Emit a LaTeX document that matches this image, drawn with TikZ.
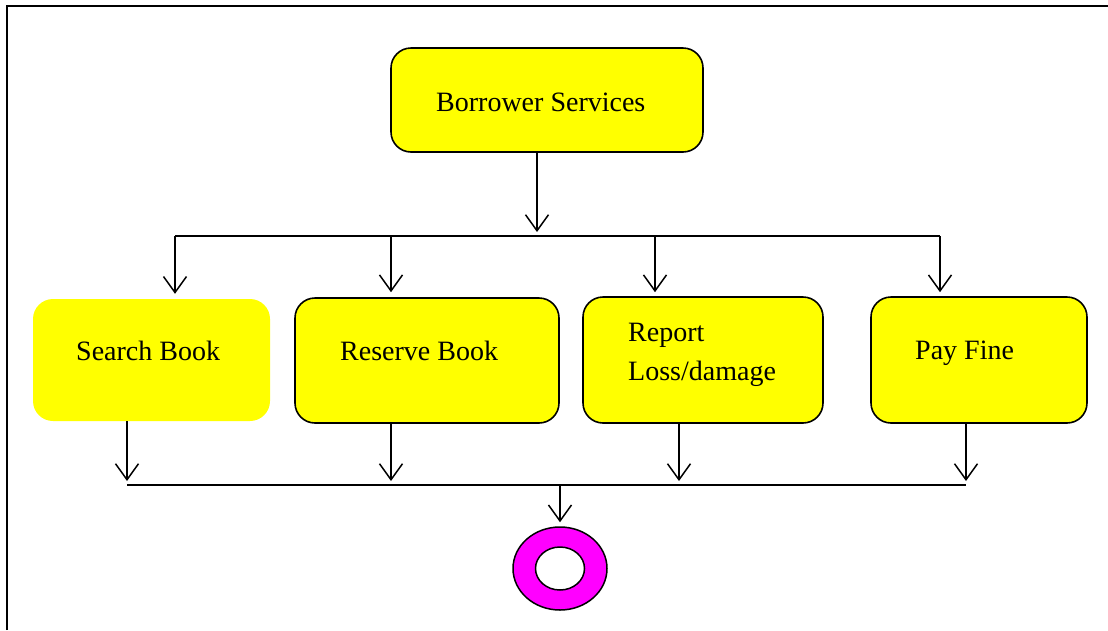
\documentclass[tikz,border=0pt]{standalone}
\usepackage{fontspec}
\setmainfont{Liberation Serif}
\usetikzlibrary{arrows.meta,shapes.geometric}
\definecolor{boxyellow}{RGB}{255,255,0}
\definecolor{endpink}{RGB}{255,0,255}
\begin{document}
\begin{tikzpicture}[x=1pt,y=-1pt,
  box/.style={rectangle, rounded corners=20pt, fill=boxyellow, draw=black, line width=1.6pt,
    inner sep=0pt},
  plainbox/.style={rectangle, rounded corners=20pt, fill=boxyellow, inner sep=0pt},
  txt/.style={anchor=base west, inner sep=0pt, font=\fontsize{28}{39}\selectfont},
  link/.style={line width=1.5pt},
  arr/.style={line width=1.5pt, -{Straight Barb[length=16pt,width=23pt,line width=1.5pt]}}
]
\useasboundingbox (0,0) rectangle (1108,630);

% page frame (left and top edges)
\draw[line width=2pt] (7,630) -- (7,6) -- (1108,6);

% activity boxes
\node[box, minimum width=312pt, minimum height=104pt] (bs) at (547,100) {};
\node[plainbox, minimum width=237pt, minimum height=122pt] (sb) at (151.5,360) {};
\node[box, minimum width=264pt, minimum height=125pt] (rb) at (427,360.5) {};
\node[box, minimum width=240pt, minimum height=126pt] (rl) at (703,360) {};
\node[box, minimum width=216pt, minimum height=126pt] (pf) at (979,360) {};

% box labels
\node[txt] (bst) at (436,111) {Borrower Services};
\node[txt] (sbt) at (76,360) {Search Book};
\node[txt] (rbt) at (340,360) {Reserve Book};
\node[txt] (rlt1) at (628,341.5) {Report};
\node[txt] (rlt2) at (628,380.5) {Loss/damage};
\node[txt] (pft) at (915,359.5) {Pay Fine};

% end state
\node[ellipse, minimum width=94pt, minimum height=83pt, fill=endpink, draw=black,
  line width=1.5pt, inner sep=0pt] (fin) at (560,568.5) {};
\node[ellipse, minimum width=49pt, minimum height=43pt, fill=white, draw=black,
  line width=1.5pt, inner sep=0pt] (finin) at (fin.center) {};

% fork
\coordinate (fin0) at (537,232);
\coordinate (t1) at (175,236);
\coordinate (t2) at (391,236);
\coordinate (t3) at (655,236);
\coordinate (t4) at (940,236);
\draw[arr] (fin0 |- bs.south) -- (fin0);
\draw[link] (t1) -- (t4);
\draw[arr] (t1) -- ([yshift=5pt]t1 |- sb.north);
\draw[arr] (t2) -- ([yshift=5pt]t2 |- rb.north);
\draw[arr] (t3) -- ([yshift=4pt]t3 |- rl.north);
\draw[arr] (t4) -- ([yshift=4pt]t4 |- pf.north);

% join
\coordinate (b1) at (127,485);
\coordinate (b2) at (391,485);
\coordinate (b3) at (679,485);
\coordinate (b4) at (966,485);
\coordinate (bm) at (560,485);
\draw[arr] (b1 |- sb.south) -- ([yshift=4pt]b1);
\draw[arr] (b2 |- rb.south) -- ([yshift=4pt]b2);
\draw[arr] (b3 |- rl.south) -- ([yshift=4pt]b3);
\draw[arr] (b4 |- pf.south) -- ([yshift=4pt]b4);
\draw[link] (b1) -- (b4);
\draw[arr] (bm) -- ([yshift=4pt]fin.north);
\end{tikzpicture}
\end{document}
